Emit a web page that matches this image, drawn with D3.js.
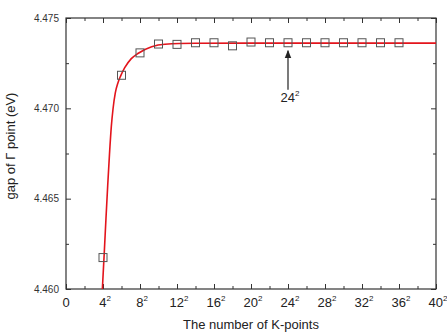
<!DOCTYPE html>
<html>
<head>
<meta charset="utf-8">
<script src="https://cdn.jsdelivr.net/npm/d3@7"></script>
<style>
  body { margin: 0; background: #fff; }
  svg { font-family: "Liberation Sans", Arial, sans-serif; }
</style>
</head>
<body>
<svg id="chart" width="447" height="333"></svg>
<script>
// measured data: k-mesh size n (grid n x n) and gap at Gamma
var kN = [4, 6, 8, 10, 12, 14, 16, 18, 20, 22, 24, 26, 28, 30, 32, 34, 36];
var gap = [4.46174, 4.47183, 4.47307, 4.47356, 4.47354, 4.47363, 4.47363, 4.47346, 4.47367,
           4.47363, 4.47363, 4.47363, 4.47363, 4.47363, 4.47363, 4.47363, 4.47363];

// fitted curve
var fitN = [3.92, 4.14, 4.32, 4.51, 4.70, 4.90, 5.08, 5.33, 5.62, 5.91, 6.35, 7.06, 7.82,
            9.26, 10.7, 14, 20, 30, 40];
var fitV = [4.45989, 4.46204, 4.46389, 4.46574, 4.46745, 4.46900, 4.46995, 4.47085, 4.47142,
            4.47180, 4.47225, 4.47275, 4.47305, 4.47341, 4.47355, 4.47360, 4.47361, 4.47361, 4.47361];

var xTicks = [0, 4, 8, 12, 16, 20, 24, 28, 32, 36, 40];
var yTicks = [4.460, 4.465, 4.470, 4.475];

var margin = {left: 66, right: 11, top: 18, bottom: 44};
var width = 447 - margin.left - margin.right;
var height = 333 - margin.top - margin.bottom;

var svg = d3.select('#chart');
var g = svg.append('g').attr('transform', 'translate(' + margin.left + ',' + margin.top + ')');

var x = d3.scaleLinear().domain([0, 40]).range([0, width]);
var y = d3.scaleLinear().domain([4.460, 4.475]).range([height, 0]);

var axisColor = '#333';

// ticks on all four sides, pointing inward
function drawTicks(axis, transform) {
    var a = g.append('g').attr('transform', transform).call(axis);
    a.select('.domain').remove();
    a.selectAll('line').attr('stroke', axisColor);
    a.selectAll('text').remove();
}
var xMinor = d3.range(2, 40, 4);
var yMinor = [4.4625, 4.4675, 4.4725];

drawTicks(d3.axisBottom(x).tickValues(xTicks).tickSize(-5), 'translate(0,' + height + ')');
drawTicks(d3.axisBottom(x).tickValues(xMinor).tickSize(-3), 'translate(0,' + height + ')');
drawTicks(d3.axisTop(x).tickValues(xTicks).tickSize(-5), 'translate(0,0)');
drawTicks(d3.axisTop(x).tickValues(xMinor).tickSize(-3), 'translate(0,0)');
drawTicks(d3.axisLeft(y).tickValues(yTicks).tickSize(-5), 'translate(0,0)');
drawTicks(d3.axisLeft(y).tickValues(yMinor).tickSize(-3), 'translate(0,0)');
drawTicks(d3.axisRight(y).tickValues(yTicks).tickSize(-5), 'translate(' + width + ',0)');
drawTicks(d3.axisRight(y).tickValues(yMinor).tickSize(-3), 'translate(' + width + ',0)');

g.append('rect')
    .attr('width', width).attr('height', height)
    .attr('fill', 'none').attr('stroke', axisColor).attr('stroke-width', 1.2);

// y tick labels
g.selectAll('.ylab').data(yTicks).enter().append('text')
    .attr('class', 'ylab')
    .attr('x', -7).attr('y', function(d) { return y(d) + 3.5; })
    .attr('text-anchor', 'end')
    .attr('font-size', 10).attr('fill', '#333')
    .text(function(d) { return d3.format('.3f')(d); });

// x tick labels with superscript 2
var xl = g.selectAll('.xlab').data(xTicks).enter().append('text')
    .attr('class', 'xlab')
    .attr('x', function(d) { return x(d) + (d === 0 ? 0 : 2); })
    .attr('y', height + 18)
    .attr('text-anchor', 'middle')
    .attr('font-size', 13).attr('fill', '#222');
xl.append('tspan').text(function(d) { return d; });
xl.filter(function(d) { return d !== 0; }).append('tspan')
    .attr('dy', -6).attr('font-size', 8).text('2');

// axis titles
g.append('text')
    .attr('x', width / 2).attr('y', height + 40)
    .attr('text-anchor', 'middle').attr('font-size', 13).attr('fill', '#222')
    .text('The number of K-points');

g.append('text')
    .attr('transform', 'translate(-51,128) rotate(-90)')
    .attr('text-anchor', 'middle').attr('font-size', 13).attr('fill', '#222')
    .text('gap of \u0393 point (eV)');

// fitted curve
var clip = svg.append('clipPath').attr('id', 'clip').append('rect')
    .attr('width', width).attr('height', height);
var line = d3.line()
    .x(function(d) { return x(d[0]); })
    .y(function(d) { return y(d[1]); })
    .curve(d3.curveMonotoneX);
g.append('path')
    .datum(d3.zip(fitN, fitV))
    .attr('clip-path', 'url(#clip)')
    .attr('d', line)
    .attr('fill', 'none').attr('stroke', '#e3141c').attr('stroke-width', 1.6);

// data squares
g.selectAll('.pt').data(d3.zip(kN, gap)).enter().append('rect')
    .attr('class', 'pt')
    .attr('x', function(d) { return x(d[0]) - 4; })
    .attr('y', function(d) { return y(d[1]) - 4; })
    .attr('width', 8).attr('height', 8)
    .attr('fill', 'none').attr('stroke', '#555').attr('stroke-width', 1);

// arrow pointing at 24^2
var ax = x(24);
svg.append('defs').append('marker')
    .attr('id', 'arrow').attr('viewBox', '0 0 10 10')
    .attr('refX', 9).attr('refY', 5)
    .attr('markerWidth', 7).attr('markerHeight', 7)
    .attr('orient', 'auto')
    .append('path').attr('d', 'M0,1L10,5L0,9Z').attr('fill', '#222');
g.append('line')
    .attr('x1', ax).attr('x2', ax)
    .attr('y1', y(4.47363) + 47).attr('y2', y(4.47363) + 8)
    .attr('stroke', '#222').attr('stroke-width', 1.2)
    .attr('marker-end', 'url(#arrow)');
var ann = g.append('text')
    .attr('x', ax + 2).attr('y', y(4.47363) + 59)
    .attr('text-anchor', 'middle').attr('font-size', 13).attr('fill', '#222');
ann.append('tspan').text('24');
ann.append('tspan').attr('dy', -6).attr('font-size', 8).text('2');
</script>
</body>
</html>
